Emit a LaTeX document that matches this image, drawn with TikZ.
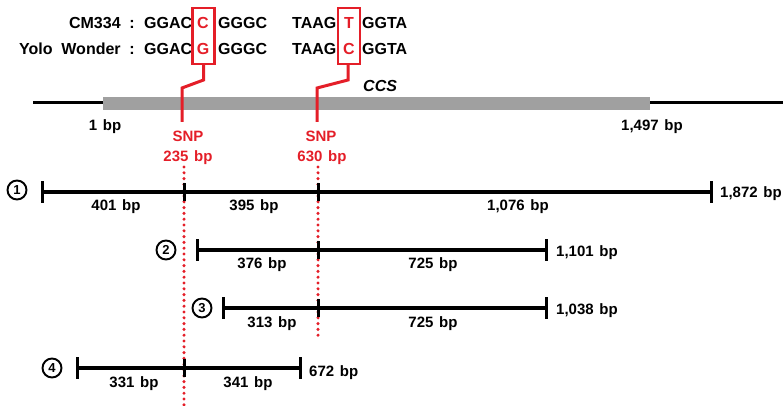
\documentclass[tikz,border=0pt]{standalone}
\usepackage{fontspec}
\setmainfont{Liberation Sans}
\definecolor{snpred}{RGB}{228,30,40}
\definecolor{bargray}{RGB}{160,160,160}
\newcommand\myseqfont{\bfseries\fontsize{16}{16}\selectfont\spaceskip=0.55em\relax}
\newcommand\mylabfont{\bfseries\fontsize{15}{15}\selectfont\spaceskip=0.38em\relax}
\begin{document}
\begin{tikzpicture}[x=1pt,y=-1pt,
  seq/.style={font=\myseqfont, inner sep=0pt, anchor=base},
  lab/.style={font=\mylabfont, inner sep=0pt, anchor=base},
  redlab/.style={lab, text=snpred},
  snpbox/.style={draw=snpred, line width=2.2pt, minimum height=56pt, minimum width=22pt, inner sep=0pt},
  snpline/.style={draw=snpred, line width=3pt},
  dotline/.style={draw=snpred, line width=3.4pt, line cap=round, dash pattern=on 0pt off 5.8pt},
  frag/.style={line width=3.2pt},
  tickmark/.style={line width=3pt},
  num/.style={circle, draw, line width=1.9pt, minimum size=19pt, inner sep=0pt, font=\bfseries\fontsize{13}{13}\selectfont}
]
\useasboundingbox (0,0) rectangle (783,406);

% ---- sequences ----
\node[seq, anchor=base east] (cmname) at (135,29) {CM334 :};
\node[seq, anchor=base east] (yoname) at (135,55) {Yolo Wonder :};
\node[seq, anchor=base west] (s1a) at (144,29) {GGAC};
\node[seq, text=snpred] (s1b) at (203,29) {C};
\node[seq, anchor=base west] (s1c) at (218,29) {GGGC};
\node[seq, anchor=base west] (s1d) at (292,29) {TAAG};
\node[seq, text=snpred] (s1e) at (349,29) {T};
\node[seq, anchor=base west] (s1f) at (362,29) {GGTA};
\node[seq, anchor=base west] (s2a) at (144,55) {GGAC};
\node[seq, text=snpred] (s2b) at (203,55) {G};
\node[seq, anchor=base west] (s2c) at (218,55) {GGGC};
\node[seq, anchor=base west] (s2d) at (292,55) {TAAG};
\node[seq, text=snpred] (s2e) at (349,55) {C};
\node[seq, anchor=base west] (s2f) at (362,55) {GGTA};

\node[snpbox] (boxA) at (203.5,36) {};
\node[snpbox] (boxB) at (349,36) {};

% ---- gene ----
\coordinate (g0) at (33,103);
\coordinate (g1) at (103,103);
\coordinate (g2) at (650,103);
\coordinate (g3) at (783,103);
\draw[line width=3pt] (g0) -- (g1);
\draw[line width=3pt] (g2) -- (g3);
\fill[bargray] (103,97) rectangle (650,110);
\node[seq, font=\bfseries\itshape\fontsize{16}{16}\selectfont, anchor=base west] (ccs) at (363,92) {CCS};
\node[lab] (bp1) at (105,131) {1 bp};
\node[lab] (bp1497) at (652,131) {1,497 bp};

% ---- SNP connectors ----
\coordinate (a1) at (203.5,80);
\coordinate (a2) at (182,88);
\coordinate (a3) at (182,122);
\coordinate (b1) at (348,80);
\coordinate (b2) at (317,88);
\coordinate (b3) at (317,122);
\draw[snpline] (boxA.south -| a1) -- (a1) -- (a2) -- (a3);
\draw[snpline] (boxB.south -| b1) -- (b1) -- (b2) -- (b3);
\node[redlab] (snpA) at (188,142) {SNP};
\node[redlab] (posA) at (188,161) {235 bp};
\node[redlab] (snpB) at (321,142) {SNP};
\node[redlab] (posB) at (322,161) {630 bp};

% ---- dotted SNP lines ----
\coordinate (dA0) at (184,167);
\coordinate (dA1) at (184,405);
\coordinate (dB0) at (318,167);
\coordinate (dB1) at (318,338);
\draw[dotline] (dA0) -- (dA1);
\draw[dotline] (dB0) -- (dB1);

% ---- fragment 1 ----
\node[num] (n1) at (17,190) {1};
\coordinate (r1a) at (42,192);
\coordinate (r1b) at (184,192);
\coordinate (r1c) at (318,192);
\coordinate (r1d) at (711,192);
\draw[frag] (r1a) -- (r1d);
\draw[tickmark] (r1a) ++(0,-11) -- ++(0,22);
\draw[tickmark] (r1b) ++(0,-9) -- ++(0,18);
\draw[tickmark] (r1c) ++(0,-9) -- ++(0,18);
\draw[tickmark] (r1d) ++(0,-11) -- ++(0,22);
\node[lab] (l1a) at (116,210) {401 bp};
\node[lab] (l1b) at (254,210) {395 bp};
\node[lab] (l1c) at (518,210) {1,076 bp};
\node[lab, anchor=base west] (l1d) at (720,197) {1,872 bp};

% ---- fragment 2 ----
\node[num] (n2) at (166,250) {2};
\coordinate (r2a) at (197,250);
\coordinate (r2c) at (318,250);
\coordinate (r2d) at (546,250);
\draw[frag] (r2a) -- (r2d);
\draw[tickmark] (r2a) ++(0,-11) -- ++(0,22);
\draw[tickmark] (r2c) ++(0,-9) -- ++(0,18);
\draw[tickmark] (r2d) ++(0,-11) -- ++(0,22);
\node[lab] (l2a) at (262,268) {376 bp};
\node[lab] (l2b) at (433,268) {725 bp};
\node[lab, anchor=base west] (l2d) at (556,256) {1,101 bp};

% ---- fragment 3 ----
\node[num] (n3) at (202,308) {3};
\coordinate (r3a) at (223,308);
\coordinate (r3c) at (318,308);
\coordinate (r3d) at (546,308);
\draw[frag] (r3a) -- (r3d);
\draw[tickmark] (r3a) ++(0,-11) -- ++(0,22);
\draw[tickmark] (r3c) ++(0,-9) -- ++(0,18);
\draw[tickmark] (r3d) ++(0,-11) -- ++(0,22);
\node[lab] (l3a) at (272,327) {313 bp};
\node[lab] (l3b) at (433,327) {725 bp};
\node[lab, anchor=base west] (l3d) at (556,314) {1,038 bp};

% ---- fragment 4 ----
\node[num] (n4) at (52,368) {4};
\coordinate (r4a) at (77,368);
\coordinate (r4b) at (184,368);
\coordinate (r4d) at (300,368);
\draw[frag] (r4a) -- (r4d);
\draw[tickmark] (r4a) ++(0,-11) -- ++(0,22);
\draw[tickmark] (r4b) ++(0,-9) -- ++(0,18);
\draw[tickmark] (r4d) ++(0,-11) -- ++(0,22);
\node[lab] (l4a) at (134,387) {331 bp};
\node[lab] (l4b) at (248,387) {341 bp};
\node[lab, anchor=base west] (l4d) at (309,376) {672 bp};
\end{tikzpicture}
\end{document}
